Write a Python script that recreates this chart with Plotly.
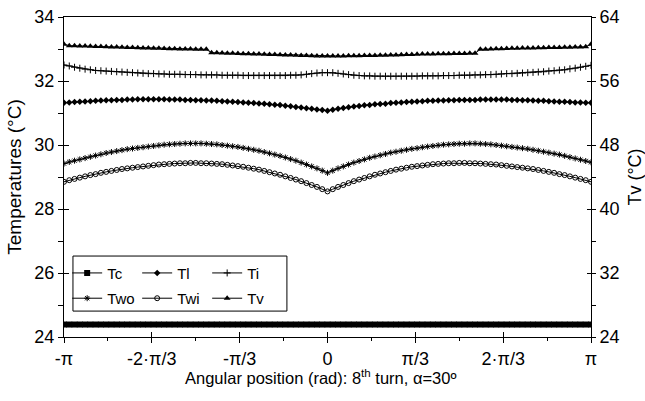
import numpy as np
import plotly.graph_objects as go

# Angular positions (rad), 101 samples from -pi to pi
ANGLE = np.linspace(-np.pi, np.pi, 101)

X_TICK_VALS = [-np.pi, -2 * np.pi / 3, -np.pi / 3, 0, np.pi / 3, 2 * np.pi / 3, np.pi]
X_TICK_TEXT = ["-π", "-2·π/3", "-π/3", "0", "π/3", "2·π/3", "π"]
X_MINOR_VALS = [-5 * np.pi / 6, -np.pi / 2, -np.pi / 6, np.pi / 6, np.pi / 2, 5 * np.pi / 6]

TC = [
    24.39, 24.39, 24.39, 24.39, 24.39, 24.39, 24.39, 24.39, 24.39, 24.39,
    24.39, 24.39, 24.39, 24.39, 24.39, 24.39, 24.39, 24.39, 24.39, 24.39,
    24.39, 24.39, 24.39, 24.39, 24.39, 24.39, 24.39, 24.39, 24.39, 24.39,
    24.39, 24.39, 24.39, 24.39, 24.39, 24.39, 24.39, 24.39, 24.39, 24.39,
    24.39, 24.39, 24.39, 24.39, 24.39, 24.39, 24.39, 24.39, 24.39, 24.39,
    24.39,
    24.39, 24.39, 24.39, 24.39, 24.39, 24.39, 24.39, 24.39, 24.39, 24.39,
    24.39, 24.39, 24.39, 24.39, 24.39, 24.39, 24.39, 24.39, 24.39, 24.39,
    24.39, 24.39, 24.39, 24.39, 24.39, 24.39, 24.39, 24.39, 24.39, 24.39,
    24.39, 24.39, 24.39, 24.39, 24.39, 24.39, 24.39, 24.39, 24.39, 24.39,
    24.39, 24.39, 24.39, 24.39, 24.39, 24.39, 24.39, 24.39, 24.39, 24.39,
]

TL = [
    31.32, 31.33, 31.34, 31.35, 31.36, 31.37, 31.38, 31.39, 31.40, 31.40,
    31.41, 31.41, 31.42, 31.42, 31.43, 31.43, 31.43, 31.43, 31.43, 31.43,
    31.42, 31.42, 31.42, 31.41, 31.41, 31.40, 31.40, 31.39, 31.39, 31.38,
    31.37, 31.36, 31.35, 31.34, 31.33, 31.32, 31.31, 31.30, 31.29, 31.27,
    31.26, 31.25, 31.23, 31.21, 31.19, 31.17, 31.15, 31.13, 31.11, 31.09,
    31.07,
    31.10, 31.13, 31.16, 31.18, 31.20, 31.22, 31.24, 31.25, 31.27, 31.28,
    31.29, 31.31, 31.32, 31.33, 31.34, 31.35, 31.36, 31.37, 31.38, 31.38,
    31.39, 31.39, 31.40, 31.40, 31.41, 31.41, 31.41, 31.41, 31.42, 31.42,
    31.42, 31.42, 31.42, 31.42, 31.41, 31.41, 31.40, 31.40, 31.39, 31.38,
    31.38, 31.37, 31.36, 31.35, 31.35, 31.34, 31.33, 31.33, 31.32, 31.32,
]

TI = [
    32.50, 32.47, 32.43, 32.40, 32.37, 32.35, 32.33, 32.32, 32.31, 32.30,
    32.29, 32.28, 32.27, 32.26, 32.25, 32.24, 32.23, 32.23, 32.22, 32.22,
    32.21, 32.21, 32.21, 32.20, 32.20, 32.20, 32.19, 32.19, 32.19, 32.19,
    32.18, 32.18, 32.18, 32.18, 32.17, 32.17, 32.17, 32.17, 32.17, 32.17,
    32.17, 32.17, 32.17, 32.18, 32.18, 32.19, 32.21, 32.23, 32.25, 32.26,
    32.26,
    32.26, 32.24, 32.22, 32.20, 32.18, 32.17, 32.16, 32.16, 32.15, 32.15,
    32.15, 32.15, 32.15, 32.15, 32.15, 32.15, 32.15, 32.16, 32.16, 32.16,
    32.16, 32.17, 32.17, 32.17, 32.18, 32.18, 32.18, 32.19, 32.19, 32.20,
    32.20, 32.21, 32.22, 32.23, 32.23, 32.24, 32.25, 32.26, 32.27, 32.28,
    32.29, 32.31, 32.32, 32.34, 32.35, 32.38, 32.40, 32.43, 32.46, 32.49,
]

TWO = [
    29.42, 29.47, 29.51, 29.55, 29.59, 29.63, 29.67, 29.71, 29.75, 29.78,
    29.81, 29.84, 29.87, 29.89, 29.91, 29.93, 29.95, 29.97, 29.99, 30.01,
    30.02, 30.03, 30.04, 30.05, 30.05, 30.05, 30.05, 30.04, 30.03, 30.02,
    30.00, 29.98, 29.96, 29.94, 29.91, 29.88, 29.85, 29.82, 29.78, 29.74,
    29.70, 29.66, 29.61, 29.56, 29.51, 29.45, 29.39, 29.33, 29.27, 29.20,
    29.13,
    29.20, 29.27, 29.33, 29.39, 29.45, 29.50, 29.55, 29.60, 29.64, 29.68,
    29.72, 29.76, 29.79, 29.82, 29.85, 29.88, 29.90, 29.93, 29.95, 29.97,
    29.99, 30.01, 30.02, 30.03, 30.04, 30.04, 30.05, 30.05, 30.04, 30.03,
    30.02, 30.00, 29.98, 29.96, 29.94, 29.92, 29.90, 29.88, 29.85, 29.82,
    29.79, 29.76, 29.73, 29.70, 29.66, 29.62, 29.58, 29.54, 29.50, 29.46,
]

TWI = [
    28.85, 28.90, 28.94, 28.98, 29.02, 29.06, 29.09, 29.13, 29.16, 29.19,
    29.22, 29.25, 29.27, 29.29, 29.31, 29.33, 29.35, 29.37, 29.39, 29.40,
    29.41, 29.42, 29.43, 29.43, 29.44, 29.44, 29.43, 29.43, 29.42, 29.41,
    29.40, 29.38, 29.36, 29.34, 29.32, 29.29, 29.26, 29.23, 29.19, 29.15,
    29.11, 29.07, 29.02, 28.97, 28.92, 28.87, 28.81, 28.75, 28.69, 28.62,
    28.55,
    28.62, 28.69, 28.75, 28.81, 28.87, 28.92, 28.97, 29.02, 29.07, 29.11,
    29.15, 29.19, 29.23, 29.26, 29.29, 29.32, 29.34, 29.36, 29.38, 29.40,
    29.41, 29.42, 29.43, 29.43, 29.44, 29.44, 29.43, 29.43, 29.42, 29.41,
    29.40, 29.39, 29.37, 29.35, 29.33, 29.31, 29.29, 29.27, 29.25, 29.22,
    29.19, 29.16, 29.13, 29.09, 29.06, 29.02, 28.98, 28.94, 28.90, 28.85,
]

TV = [
    60.60, 60.42, 60.40, 60.38, 60.36, 60.34, 60.32, 60.30, 60.28, 60.26,
    60.24, 60.22, 60.20, 60.18, 60.16, 60.14, 60.12, 60.10, 60.08, 60.06,
    60.04, 60.02, 60.01, 60.00, 59.99, 59.98, 59.97, 59.96, 59.54, 59.52,
    59.50, 59.48, 59.46, 59.44, 59.42, 59.40, 59.38, 59.36, 59.34, 59.32,
    59.30, 59.28, 59.26, 59.24, 59.22, 59.20, 59.18, 59.16, 59.14, 59.13,
    59.12,
    59.12, 59.13, 59.14, 59.15, 59.16, 59.17, 59.18, 59.19, 59.20, 59.21,
    59.22, 59.24, 59.26, 59.28, 59.30, 59.32, 59.34, 59.36, 59.37, 59.38,
    59.40, 59.41, 59.42, 59.43, 59.44, 59.45, 59.46, 59.47, 59.96, 59.98,
    60.00, 60.02, 60.04, 60.06, 60.08, 60.10, 60.11, 60.12, 60.14, 60.15,
    60.16, 60.18, 60.19, 60.20, 60.22, 60.23, 60.24, 60.26, 60.28, 60.60,
]

X_TITLE = "Angular position (rad): 8<sup>th</sup> turn, α=30º"

FONT = "Liberation Sans, Arial, sans-serif"
BLACK = "black"

fig = go.Figure()


def add(name, y, symbol, size, legend, xaxis="x", yaxis="y", lw=1):
    marker = dict(symbol=symbol, size=size, color=BLACK, line=dict(color=BLACK, width=lw))
    fig.add_trace(go.Scatter(
        x=ANGLE, y=y, name=name, mode="lines+markers",
        line=dict(color=BLACK, width=1), marker=marker,
        xaxis=xaxis, yaxis=yaxis, legend=legend,
        hoverinfo="skip",
    ))


add("Tc", TC, "square", 6, "legend", lw=0)
add("Tl", TL, "diamond", 5, "legend", xaxis="x2", yaxis="y3", lw=0)
add("Ti", TI, "cross-thin", 5, "legend", lw=1)
add("Two", TWO, "asterisk", 5, "legend2", lw=1)
add("Twi", TWI, "circle-open", 5, "legend2", lw=1)
add("Tv", TV, "triangle-up", 6, "legend2", yaxis="y2", lw=0)
# invisible copy of Tv to hold the inner ticks of the right axis
fig.add_trace(go.Scatter(x=ANGLE, y=TV, mode="lines", line=dict(width=0, color="rgba(0,0,0,0)"),
                         xaxis="x", yaxis="y4", showlegend=False, hoverinfo="skip"))

axis_common = dict(showgrid=False, zeroline=False, linecolor=BLACK, linewidth=1,
                   tickcolor=BLACK, tickwidth=1, automargin=False,
                   tickfont=dict(family=FONT, size=18, color=BLACK))

fig.update_layout(
    width=645, height=401,
    margin=dict(l=64, r=54, t=17, b=64),
    paper_bgcolor="white", plot_bgcolor="white",
    font=dict(family=FONT, color=BLACK),
    xaxis=dict(
        **axis_common, range=[-np.pi, np.pi], showline=True, mirror=True,
        tickmode="array", tickvals=X_TICK_VALS, ticktext=X_TICK_TEXT,
        ticks="outside", ticklen=5,
        minor=dict(tickmode="array", tickvals=X_MINOR_VALS, ticks="outside", ticklen=3, tickcolor=BLACK),
    ),
    xaxis2=dict(
        **axis_common, range=[-np.pi, np.pi], overlaying="x", anchor="y", side="bottom",
        showline=False, tickmode="array", tickvals=X_TICK_VALS, ticks="inside", ticklen=5,
        showticklabels=False,
    ),
    yaxis=dict(
        **axis_common, range=[24, 34], showline=True, tickmode="linear", tick0=24, dtick=2,
        ticks="outside", ticklen=5,
        minor=dict(tickmode="linear", tick0=25, dtick=2, ticks="outside", ticklen=5, tickcolor=BLACK),
        title=dict(text="Temperatures (°C)", font=dict(family=FONT, size=19, color=BLACK), standoff=7),
    ),
    yaxis3=dict(
        **axis_common, range=[24, 34], overlaying="y", anchor="x2", side="left", showline=False,
        tickmode="linear", tick0=24, dtick=2, ticks="inside", ticklen=5, showticklabels=False,
    ),
    yaxis2=dict(
        **axis_common, range=[24, 64], overlaying="y", anchor="x", side="right", showline=True,
        tickmode="linear", tick0=24, dtick=8, ticks="outside", ticklen=4,
        minor=dict(tickmode="linear", tick0=28, dtick=8, ticks="outside", ticklen=4, tickcolor=BLACK),
        title=dict(text="Tv (°C)", font=dict(family=FONT, size=18, color=BLACK), standoff=9),
    ),
    yaxis4=dict(
        **axis_common, range=[24, 64], overlaying="y", anchor="x", side="right", showline=False,
        tickmode="linear", tick0=24, dtick=8, ticks="inside", ticklen=4, showticklabels=False,
    ),
    legend=dict(orientation="h", x=0.006, y=0.251, xanchor="left", yanchor="top",
                entrywidth=25, entrywidthmode="pixels", itemwidth=30,
                bgcolor="rgba(0,0,0,0)", borderwidth=0,
                font=dict(family=FONT, size=15, color=BLACK)),
    legend2=dict(orientation="h", x=0.006, y=0.172, xanchor="left", yanchor="top",
                 entrywidth=25, entrywidthmode="pixels", itemwidth=30,
                 bgcolor="rgba(0,0,0,0)", borderwidth=0,
                 font=dict(family=FONT, size=15, color=BLACK)),
    annotations=[dict(text=X_TITLE, xref="paper", yref="paper", x=0.487, y=-0.124,
                      xanchor="center", yanchor="middle", showarrow=False,
                      font=dict(family=FONT, size=16.5, color=BLACK))],
    shapes=[dict(type="rect", xref="paper", yref="paper", x0=0.017, x1=0.423, y0=0.081, y1=0.253,
                 line=dict(color=BLACK, width=1), fillcolor="rgba(0,0,0,0)", layer="above")],
)

fig.write_html("out.html")
